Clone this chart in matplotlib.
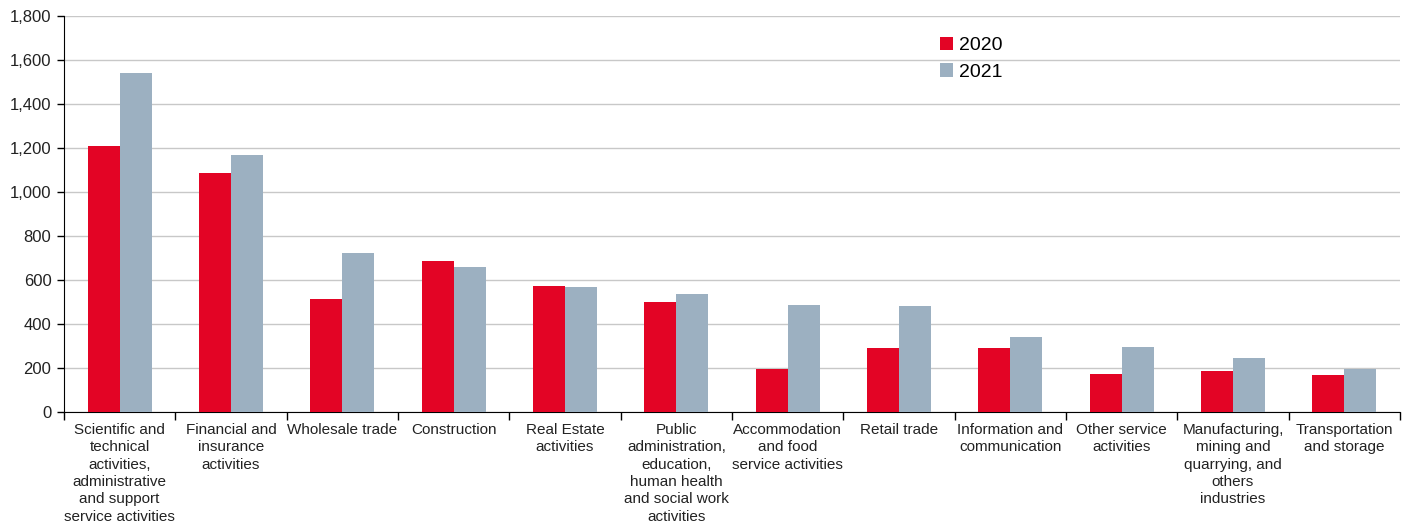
import matplotlib
matplotlib.use("Agg")
import matplotlib.pyplot as plt
import numpy as np

plt.rcParams['font.family'] = ['Liberation Sans', 'DejaVu Sans']

categories = [
    "Scientific and\ntechnical\nactivities,\nadministrative\nand support\nservice activities",
    "Financial and\ninsurance\nactivities",
    "Wholesale trade",
    "Construction",
    "Real Estate\nactivities",
    "Public\nadministration,\neducation,\nhuman health\nand social work\nactivities",
    "Accommodation\nand food\nservice activities",
    "Retail trade",
    "Information and\ncommunication",
    "Other service\nactivities",
    "Manufacturing,\nmining and\nquarrying, and\nothers\nindustries",
    "Transportation\nand storage",
]
values_2020 = [1210, 1088, 514, 688, 572, 500, 197, 292, 292, 173, 187, 170]
values_2021 = [1540, 1168, 724, 661, 568, 537, 488, 482, 342, 297, 245, 197]
yticks = [0, 200, 400, 600, 800, 1000, 1200, 1400, 1600, 1800]

fig = plt.figure(figsize=(14.07, 5.25), dpi=100)
ax = fig.add_axes([64/1407, 1 - 412/525, (1400-64)/1407, (412-16)/525])

x = np.arange(len(categories))
w = 0.2875
ax.bar(x - w/2, values_2020, width=w, color='#E30425', label='2020', zorder=3)
ax.bar(x + w/2, values_2021, width=w, color='#9CB0C1', label='2021', zorder=3)

ax.set_xlim(-0.5, len(categories) - 0.5)
ax.set_ylim(0, 1800)
ax.set_yticks(yticks)
ax.set_yticklabels([f"{v:,}" for v in yticks], fontsize=12, color='#222222')
ax.yaxis.grid(True, color='#c8c8c8', linewidth=1, zorder=0)
ax.set_axisbelow(True)

ax.set_xticks(x)
ax.set_xticklabels(categories, fontsize=11, linespacing=1.3, color='#222222')
ax.tick_params(axis='x', length=0, pad=8)
ax.set_xticks(np.arange(-0.5, len(categories) + 0.5, 1), minor=True)
ax.tick_params(axis='x', which='minor', length=6, width=1, color='black')
ax.tick_params(axis='y', length=5, width=1, color='black', pad=4)

for s in ['top', 'right']:
    ax.spines[s].set_visible(False)
ax.spines['left'].set_color('black')
ax.spines['bottom'].set_color('black')

ax.legend(loc='upper left', bbox_to_anchor=((932-64)/1336, (412-29)/396),
          frameon=False, fontsize=14, handlelength=0.7, handleheight=0.7,
          handletextpad=0.3, labelspacing=0.45, borderaxespad=0)

fig.savefig("out.png", dpi=100)
